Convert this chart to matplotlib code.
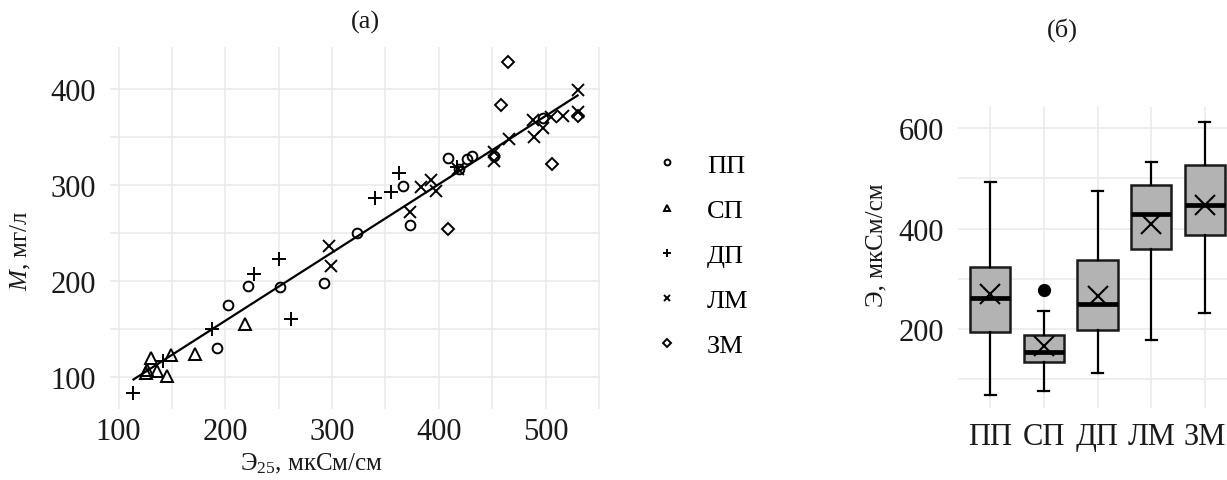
import numpy as np
import matplotlib
matplotlib.use("Agg")
import matplotlib.pyplot as plt

# ---------- DATA ----------
# panel (a): M vs E25 by water type
pp_x = [409, 366, 373, 323, 292, 251, 221, 203, 192, 419, 426, 431, 452, 498]
pp_y = [328, 299, 259, 250, 198, 194, 195, 175, 131, 317, 327, 330, 330, 370]
sp_x = [130, 127, 126, 136, 145, 149, 172, 218]
sp_y = [120, 108, 105, 107, 101, 123, 124, 156]
dp_x = [114, 142, 188, 227, 250, 262, 340, 355, 363, 417]
dp_y = [84, 117, 150, 208, 223, 161, 287, 293, 313, 319]
lm_x = [297, 299, 373, 383, 393, 397, 418, 452, 452, 466, 488, 489, 498, 505, 516, 530, 530]
lm_y = [237, 216, 272, 298, 305, 294, 317, 335, 325, 348, 368, 350, 360, 371, 372, 376, 399]
zm_x = [465, 458, 506, 409, 530]
zm_y = [428, 384, 322, 254, 372]

groups = ["ПП", "СП", "ДП", "ЛМ", "ЗМ"]

# panel (б): box statistics of E
box_low = [69, 77, 112, 178, 233]
box_q1 = [194, 135, 199, 360, 387]
box_med = [262, 154, 249, 429, 446]
box_q3 = [323, 188, 338, 486, 527]
box_high = [492, 237, 474, 533, 613]
box_mean = [270, 166, 265, 409, 447]
box_fliers = [[], [277], [], [], []]
# ---------------------------

plt.rcParams['font.family'] = ['Liberation Serif', 'DejaVu Serif']
plt.rcParams['mathtext.fontset'] = 'custom'
plt.rcParams['mathtext.rm'] = 'Liberation Serif'
plt.rcParams['mathtext.it'] = 'Liberation Serif:italic'

W, H = 1227, 481
fig = plt.figure(figsize=(W / 100, H / 100), dpi=100)

GRID = '#ebebeb'
TXT = '#1a1a1a'
TICK_FS = 22
LAB_FS = 18


def px_axes(l, r, t, b):
    return fig.add_axes([l / W, 1 - b / H, (r - l) / W, (b - t) / H])


# ---------- panel (a) ----------
ax = px_axes(110, 600, 48, 410)
ax.set_xlim(92, 551)
ax.set_ylim(67, 444)
ax.set_xticks([100, 200, 300, 400, 500])
ax.set_xticks([150, 250, 350, 450, 550], minor=True)
ax.set_yticks([100, 200, 300, 400])
ax.set_yticks([150, 250, 350], minor=True)
ax.grid(True, which='both', color=GRID, lw=1.2)
ax.set_axisbelow(True)
for s in ax.spines.values():
    s.set_visible(False)
ax.tick_params(which='both', length=0, labelsize=TICK_FS, colors=TXT)
ax.tick_params(axis='x', pad=6)
ax.tick_params(axis='y', pad=10)

series = [
    (pp_x, pp_y, 'o', 7.0),
    (sp_x, sp_y, '^', 8.0),
    (dp_x, dp_y, '+', 10.0),
    (lm_x, lm_y, 'x', 8.0),
    (zm_x, zm_y, 'D', 6.5),
]
handles = []
for (xs, ys, m, ms), name in zip(series, groups):
    h, = ax.plot(xs, ys, ls='none', marker=m, ms=ms, mfc='none', mec='black',
                 mew=1.4, label=name)
    handles.append(h)

# least squares line over the data range
all_x = np.array(pp_x + sp_x + dp_x + lm_x + zm_x, dtype=float)
all_y = np.array(pp_y + sp_y + dp_y + lm_y + zm_y, dtype=float)
k, b = np.polyfit(all_x, all_y, 1)
xx = np.array([all_x.min(), all_x.max()])
ax.plot(xx, k * xx + b, color='black', lw=1.6)

ax.set_xlabel("Э$_{25}$, мкСм/см", fontsize=LAB_FS, color=TXT)
ax.xaxis.set_label_coords((312 - 110) / 490, -(452 - 410) / 362)
ax.set_ylabel("$\\it{M}$, мг/л", fontsize=LAB_FS, color=TXT)
ax.yaxis.set_label_coords(-(110 - 33) / 490, (410 - 251) / 362)

leg = ax.legend(handles=handles, loc='upper left',
                bbox_to_anchor=(641 / W, 1 - 141 / H),
                bbox_transform=fig.transFigure, frameon=False,
                fontsize=19, markerscale=0.6, handlelength=1.0,
                handletextpad=1.0, labelspacing=0.82, borderpad=0)

fig.text(365 / W, 1 - 22 / H, "(a)", ha='center', va='center', fontsize=19, color=TXT)

# ---------- panel (б) ----------
bx = px_axes(958, 1237, 108, 409)
stats = []
for i, g in enumerate(groups):
    stats.append(dict(label=g, whislo=box_low[i], q1=box_q1[i], med=box_med[i],
                      q3=box_q3[i], whishi=box_high[i], mean=box_mean[i],
                      fliers=box_fliers[i]))
bx.bxp(stats, positions=range(1, 6), widths=0.75, capwidths=0.2,
       showmeans=True, patch_artist=True,
       boxprops=dict(facecolor='#b3b3b3', edgecolor='#1a1a1a', lw=1.8),
       medianprops=dict(color='black', lw=3.4),
       whiskerprops=dict(color='black', lw=1.6),
       capprops=dict(color='black', lw=1.6),
       meanprops=dict(marker='x', ms=15, mec='black', mew=1.5),
       flierprops=dict(marker='o', ms=8.5, mfc='black', mec='black'))
bx.set_xlim(0.4, 5.6)
bx.set_ylim(43, 642)
bx.set_yticks([200, 400, 600])
bx.set_yticks([100, 300, 500], minor=True)
bx.set_xticks(range(1, 6))
bx.set_xticklabels(groups)
bx.grid(True, which='both', color=GRID, lw=1.2)
bx.set_axisbelow(True)
for s in bx.spines.values():
    s.set_visible(False)
bx.tick_params(which='both', length=0, labelsize=TICK_FS, colors=TXT)
bx.tick_params(axis='x', pad=10)
bx.tick_params(axis='y', pad=10)
bx.set_ylabel("Э, мкСм/см", fontsize=LAB_FS, color=TXT)
bx.yaxis.set_label_coords(-(958 - 887) / 279, (409 - 245) / 301)

fig.text(1062 / W, 1 - 30 / H, "(б)", ha='center', va='center', fontsize=19, color=TXT)

fig.savefig("out.png", dpi=100, facecolor='white')
